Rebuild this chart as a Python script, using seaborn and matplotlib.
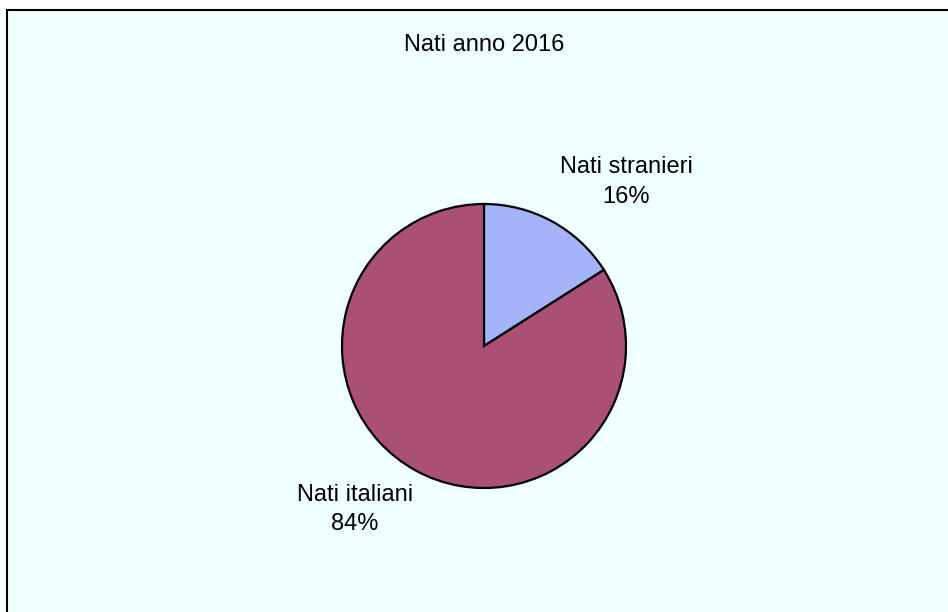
import matplotlib
matplotlib.use('Agg')
import matplotlib.pyplot as plt
from matplotlib.patches import Rectangle
import seaborn as sns

# data
categories = ["Nati stranieri", "Nati italiani"]
shares = [16, 84]
slice_colors = ["#A5B3F9", "#A95074"]

sns.set_theme(style="white")
plt.rcParams['font.family'] = ['Liberation Sans', 'DejaVu Sans']

fig = plt.figure(figsize=(9.48, 6.12), dpi=100)
fig.patch.set_facecolor("white")

# chart area frame
fig.patches.append(Rectangle((7 / 948, -0.01), 1.0, 1 - 10 / 612 + 0.01,
                             transform=fig.transFigure, facecolor="#F0FFFF",
                             edgecolor="black", linewidth=1.5, zorder=-1))

r_px = 142
half = 200
ax = fig.add_axes([(484 - half) / 948, (612 - 346 - half) / 612, 2 * half / 948, 2 * half / 612])
ax.set_axis_off()
ax.patch.set_alpha(0)

palette = sns.color_palette(slice_colors)
wedges, _ = ax.pie(shares, colors=palette, startangle=90, counterclock=False,
                   radius=1.0, wedgeprops=dict(edgecolor="black", linewidth=1.6))
ax.set_xlim(-half / r_px, half / r_px)
ax.set_ylim(-half / r_px, half / r_px)

label_pos = [(1.0, 1.155), (-0.91, -1.151)]
for name, val, (lx, ly) in zip(categories, shares, label_pos):
    ax.text(lx, ly, f"{name}\n{val}%", ha="center", va="center",
            fontsize=17, color="black", linespacing=1.45)

fig.text(484 / 948, 1 - 45 / 612, "Nati anno 2016", ha="center", va="center",
         fontsize=17, color="black")

fig.savefig("out.png", dpi=100)
